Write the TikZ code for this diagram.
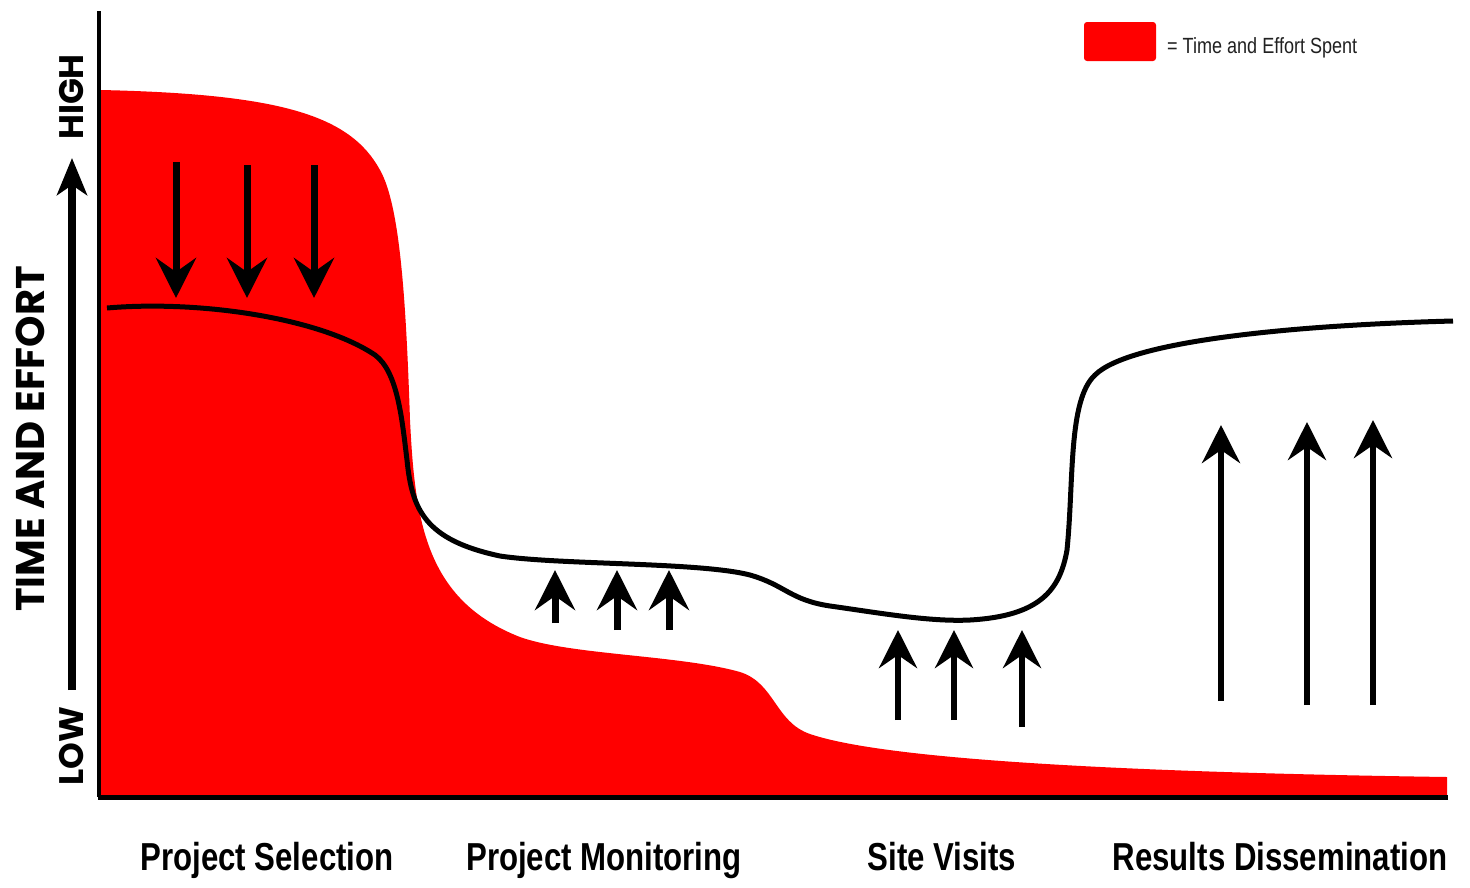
\documentclass[tikz,border=0pt]{standalone}
\usepackage{fontspec}
\usepackage{tikz}
\usetikzlibrary{arrows.meta,positioning}
\setmainfont{Liberation Sans}
\newfontfamily\gaugefont{Poppins}
\newfontfamily\phasefont[FakeStretch=0.8]{Liberation Sans}
\newfontfamily\keyfont[FakeStretch=0.82]{Liberation Sans}

\begin{document}
\begin{tikzpicture}[y=-1pt,x=1pt,
	push/.style={line width=7pt,-{Stealth[length=40pt,width=40pt,inset=14pt]}},
	lift/.style={line width=6pt,-{Stealth[length=38pt,width=38pt,inset=13pt]}},
	phase/.style={font=\phasefont\bfseries\fontsize{39}{40}\selectfont,anchor=base,inner sep=0pt},
	gauge/.style={font=\gaugefont\bfseries\fontsize{34}{34}\selectfont,rotate=90,inner sep=0pt}]
	\useasboundingbox (0,0) rectangle (1470,887);

	% effort actually spent
	\fill[red] (101,797) -- (101,90)
		.. controls (280,94) and (350,115) .. (380,170)
		.. controls (400,205) and (406,300) .. (410,420)
		.. controls (415,520) and (425,600) .. (520,637)
		.. controls (570,655) and (680,655) .. (740,672)
		.. controls (775,683) and (775,722) .. (810,734)
		.. controls (880,758) and (1100,772) .. (1447,777)
		-- (1447,797) -- cycle;

	% axes
	\draw[line width=3.5pt] (99,11) -- (99,797);
	\draw[line width=5pt] (97.5,797) -- (1448,797);
	\draw[line width=8pt,-{Stealth[length=37pt,width=30pt,inset=10pt]}] (72,690) -- (72,158);

	% effort that should be spent
	\draw[line width=5pt] (107,308)
		.. controls (200,300) and (320,318) .. (375,355)
		.. controls (398,372) and (402,420) .. (407,460)
		.. controls (412,510) and (425,540) .. (500,556)
		.. controls (560,565) and (700,562) .. (750,575)
		.. controls (785,585) and (790,600) .. (830,606)
		.. controls (880,613) and (930,622) .. (970,620)
		.. controls (1040,616) and (1060,590) .. (1067,550)
		.. controls (1074,480) and (1068,400) .. (1095,375)
		.. controls (1130,340) and (1300,325) .. (1453,321);

	\draw[push] (176,162) -- (176,298);
	\draw[push] (247,165) -- (247,298);
	\draw[push] (314,165) -- (314,298);

	\draw[push] (555,623) -- (555,570);
	\draw[push] (617,630) -- (617,570);
	\draw[push] (669,630) -- (669,570);

	\draw[lift] (898,720) -- (898,630);
	\draw[lift] (954,720) -- (954,630);
	\draw[lift] (1022,727) -- (1022,630);

	\draw[lift] (1221,701) -- (1221,425);
	\draw[lift] (1307,705) -- (1307,422);
	\draw[lift] (1373,705) -- (1373,420);

	% labels
	\node[gauge] (high) at (72,97) {HIGH};
	\node[gauge] (low) at (72,746) {LOW};
	\node[gauge,font=\gaugefont\bfseries\fontsize{40}{40}\selectfont] (axislabel) at (30,439) {TIME AND EFFORT};

	\node[phase] (selection) at (267,870) {Project Selection};
	\node[phase] (monitoring) at (604,870) {Project Monitoring};
	\node[phase] (visits) at (942,870) {Site Visits};
	\node[phase] (dissemination) at (1280,870) {Results Dissemination};

	% key
	\node[fill=red,rounded corners=3pt,minimum width=72pt,minimum height=39pt,inner sep=0pt] (key) at (1120,41.5) {};
	\node[font=\keyfont\fontsize{22}{22}\selectfont,text=black!87,anchor=base west,inner sep=0pt] (keytext) at (1167,53) {= Time and Effort Spent};
\end{tikzpicture}
\end{document}
